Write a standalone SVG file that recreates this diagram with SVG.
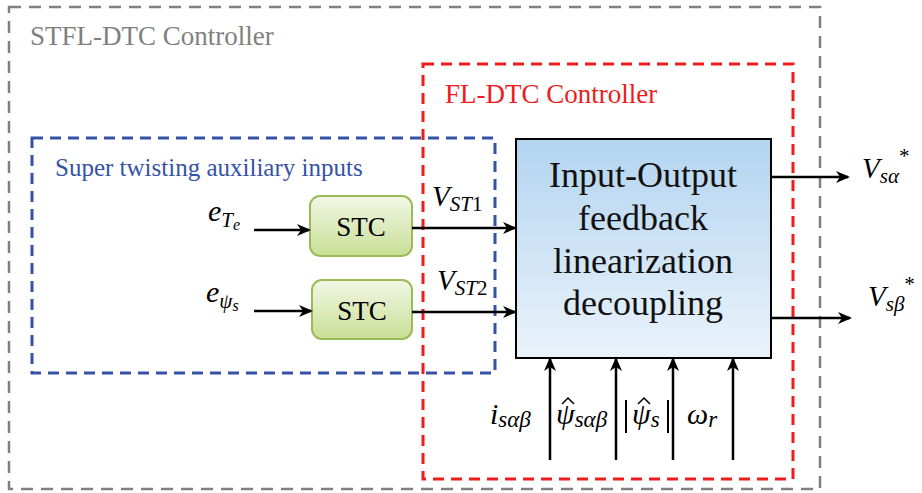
<svg xmlns="http://www.w3.org/2000/svg" width="922" height="493" viewBox="0 0 922 493">
<style>
.lbl{font-family:"Liberation Serif",serif;}
.m{font-family:"Liberation Serif",serif;font-style:italic;fill:#000;}
.ar{stroke:#000;stroke-width:2.5;fill:none;marker-end:url(#ah);}
.stc{fill:url(#g);stroke:#9bbb59;stroke-width:2;}
.bar{stroke:#000;stroke-width:2;}
.hat{stroke:#000;stroke-width:1.5;fill:none;}
</style>
<defs>
<marker id="ah" markerWidth="14" markerHeight="12" refX="12" refY="6" orient="auto" markerUnits="userSpaceOnUse">
<path d="M0,0 L14,6 L0,12 L4,6 z" fill="#000"/>
</marker>
<linearGradient id="g" x1="0" y1="0" x2="0" y2="1">
<stop offset="0" stop-color="#f2f7e6"/>
<stop offset="1" stop-color="#c9df95"/>
</linearGradient>
<linearGradient id="b" x1="0" y1="0" x2="0" y2="1">
<stop offset="0" stop-color="#b3d4f0"/>
<stop offset="1" stop-color="#eaf3fb"/>
</linearGradient>
</defs>
<g id="outer">
<rect x="9" y="7" width="811" height="482" fill="none" stroke="#808080" stroke-width="2.5" stroke-dasharray="12,8"/>
<text class="lbl" x="30" y="45" font-size="27" fill="#808080">STFL-DTC Controller</text>
</g>
<g id="fl">
<rect x="423" y="64" width="370" height="415" fill="none" stroke="#ee1c1c" stroke-width="3" stroke-dasharray="11,7"/>
<text class="lbl" x="445" y="103" font-size="27" fill="#ee1c1c">FL-DTC Controller</text>
</g>
<g id="st">
<rect x="32" y="138" width="463" height="235" fill="none" stroke="#3553a5" stroke-width="3" stroke-dasharray="11,7"/>
<text class="lbl" x="55" y="176" font-size="25" fill="#3553a5">Super twisting auxiliary inputs</text>
</g>
<g id="main">
<rect x="516" y="139" width="255" height="219" fill="url(#b)" stroke="#000" stroke-width="2"/>
<g class="lbl" font-size="36" text-anchor="middle" fill="#111">
<text x="643" y="187">Input-Output</text>
<text x="643" y="230">feedback</text>
<text x="643" y="273">linearization</text>
<text x="643" y="315">decoupling</text>
</g>
</g>
<g id="stc1">
<rect class="stc" x="310" y="196" width="102" height="60" rx="10"/>
<text class="lbl" x="361" y="236" font-size="27" text-anchor="middle">STC</text>
</g>
<g id="stc2">
<rect class="stc" x="312" y="280" width="100" height="59" rx="10"/>
<text class="lbl" x="362" y="320" font-size="27" text-anchor="middle">STC</text>
</g>
<g id="connectors">
<line class="ar" x1="254" y1="230" x2="309" y2="230"/>
<line class="ar" x1="254" y1="311" x2="311" y2="311"/>
<line class="ar" x1="412" y1="228" x2="515" y2="228"/>
<line class="ar" x1="412" y1="312" x2="515" y2="312"/>
<line class="ar" x1="771" y1="177" x2="848" y2="177"/>
<line class="ar" x1="771" y1="318" x2="850" y2="318"/>
<line class="ar" x1="550" y1="460" x2="550" y2="359"/>
<line class="ar" x1="616" y1="460" x2="616" y2="359"/>
<line class="ar" x1="673" y1="460" x2="673" y2="359"/>
<line class="ar" x1="733" y1="460" x2="733" y2="359"/>
</g>
<g id="labels">
<text class="m" x="208" y="221" font-size="30">e<tspan font-size="21" dy="6">T</tspan><tspan font-size="16" dy="3">e</tspan></text>
<text class="m" x="206" y="302" font-size="30">e<tspan font-size="21" dy="6">ψ</tspan><tspan font-size="16" dy="3">s</tspan></text>
<text class="m" x="432" y="206" font-size="29">V<tspan font-size="21" dy="5">ST</tspan><tspan font-style="normal" font-size="21">1</tspan></text>
<text class="m" x="437" y="290" font-size="29">V<tspan font-size="21" dy="5">ST</tspan><tspan font-style="normal" font-size="21">2</tspan></text>
<text class="m" x="862" y="178" font-size="29">V<tspan font-size="21" dy="5">sα</tspan><tspan font-style="normal" font-size="21" dy="-20">*</tspan></text>
<text class="m" x="868" y="306" font-size="29">V<tspan font-size="21" dy="5">sβ</tspan><tspan font-style="normal" font-size="21" dy="-20">*</tspan></text>
<text class="m" x="490" y="424" font-size="30">i<tspan font-size="23" dy="3">sαβ</tspan></text>
<text class="m" x="556" y="424" font-size="30">ψ<tspan font-size="23" dy="3">sαβ</tspan></text>
<polyline class="hat" points="562,404 568,398 574,404"/>
<line class="bar" x1="626" y1="400" x2="626" y2="433"/>
<text class="m" x="632" y="424" font-size="30">ψ<tspan font-size="23" dy="3">s</tspan></text>
<polyline class="hat" points="638,404 644,398 650,404"/>
<line class="bar" x1="668" y1="400" x2="668" y2="433"/>
<text class="m" x="687" y="424" font-size="30">ω<tspan font-size="23" dy="3">r</tspan></text>
</g>
</svg>
